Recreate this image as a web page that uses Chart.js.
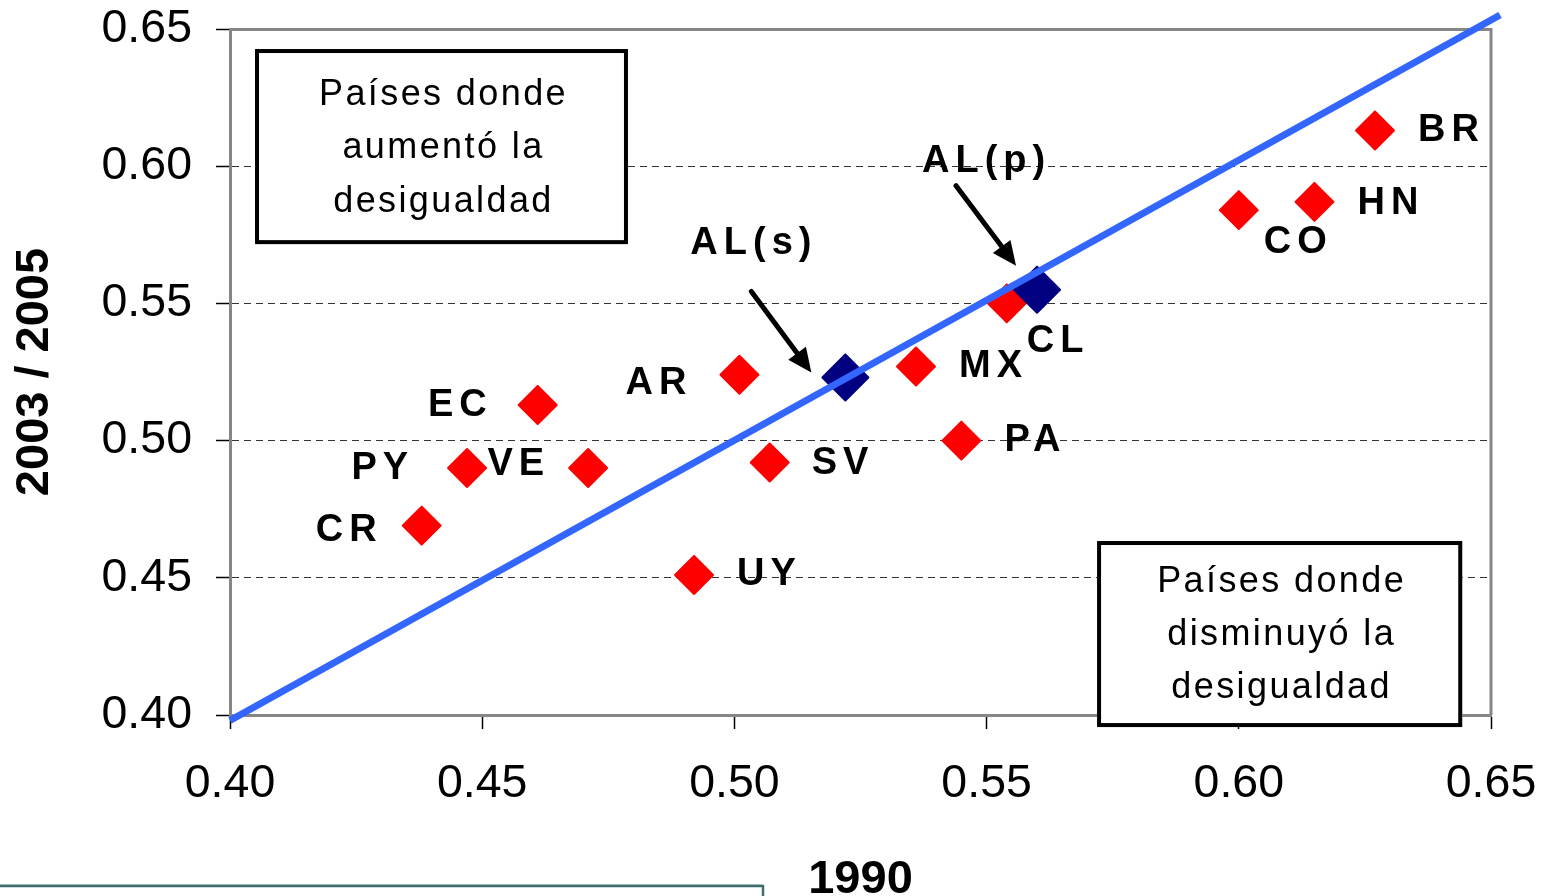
<!DOCTYPE html>
<html>
<head>
<meta charset="utf-8">
<script src="https://cdn.jsdelivr.net/npm/chart.js@4/dist/chart.umd.min.js"></script>
<style>
  html, body { margin: 0; padding: 0; background: #fff; }
  #wrap { width: 1554px; height: 896px; position: relative; }
</style>
</head>
<body>
<div id="wrap"><canvas id="c" width="1554" height="896"></canvas></div>
<script>
// ---- data ----
const countryCodes = ['BR','HN','CO','CL','MX','PA','AR','SV','UY','EC','VE','PY','CR'];
const gini1990     = [0.627,0.615,0.600,0.554,0.536,0.545,0.501,0.507,0.492,0.461,0.471,0.447,0.438];
const gini2005     = [0.613,0.587,0.584,0.550,0.527,0.500,0.524,0.492,0.451,0.513,0.490,0.490,0.469];
const aggCodes     = ['AL(s)','AL(p)'];
const agg1990      = [0.522,0.560];
const agg2005      = [0.523,0.555];
const diagX        = [0.400,0.6518];
const diagY        = [0.398,0.6551];
const xTitle = '1990';
const yTitle = '2003 / 2005';
const boxUpText   = ['Países donde','aumentó la','desigualdad'];
const boxDownText = ['Países donde','disminuyó la','desigualdad'];

// ---- styling / placement (not data) ----
const FONT = "'Liberation Sans', Arial, Helvetica, sans-serif";
const labelPlacement = {
  'BR':{dx:43,dy:-3,side:'r'}, 'HN':{dx:43,dy:-1,side:'r'}, 'CO':{dx:25,dy:29,side:'r'},
  'CL':{dx:20,dy:35,side:'r'}, 'MX':{dx:43,dy:-3,side:'r'}, 'PA':{dx:43,dy:-3,side:'r'},
  'SV':{dx:42,dy:-2,side:'r'}, 'UY':{dx:43,dy:-4,side:'r'},
  'AR':{dx:-53,dy:6,side:'l'}, 'EC':{dx:-51,dy:-3,side:'l'}, 'VE':{dx:-44,dy:-7,side:'l'},
  'PY':{dx:-59,dy:-3,side:'l'}, 'CR':{dx:-45,dy:2,side:'l'},
  'AL(s)':{dx:-155,dy:-137,side:'r'}, 'AL(p)':{dx:-115,dy:-131,side:'r'}
};
const arrowPlacement = {
  'AL(s)':{x1:-94,y1:-86,x2:-34,y2:-5},
  'AL(p)':{x1:-81,y1:-104,x2:-21,y2:-24}
};
const boxes = [
  {x0:0.40496, x1:0.4789, y0:0.6427, y1:0.5716, text:boxUpText, base:[56,109,163]},
  {x0:0.5719, x1:0.6443, y0:0.4634, y1:0.3956, text:boxDownText, base:[51,104,157]}
];

const toPts = (xs, ys) => xs.map((x, i) => ({x, y: ys[i]}));

const overlay = {
  id: 'overlay',
  beforeDatasetsDraw(chart) {
    const {ctx, chartArea: a} = chart;
    ctx.save();
    ctx.strokeStyle = '#868686';
    ctx.lineWidth = 3;
    ctx.beginPath();
    ctx.moveTo(a.left, a.top + 0.5);
    ctx.lineTo(a.right, a.top + 0.5);
    ctx.lineTo(a.right, a.bottom);
    ctx.stroke();
    ctx.restore();
    ctx.save();
    ctx.lineJoin = 'round';
  },
  afterDatasetsDraw(chart) {
    const ctx = chart.ctx;
    ctx.restore();
    const xs = chart.scales.x, ys = chart.scales.y;

    const drawLabel = (code, px, py) => {
      const p = labelPlacement[code];
      if (!p) return;
      ctx.save();
      ctx.font = 'bold 38px ' + FONT;
      ctx.letterSpacing = '6px';
      ctx.fillStyle = '#000';
      ctx.textBaseline = 'alphabetic';
      ctx.textAlign = 'left';
      const w = ctx.measureText(code).width - 6;
      const base = py + p.dy + 13.6;
      const x = p.side === 'r' ? px + p.dx : px + p.dx - w;
      ctx.fillText(code, x, base);
      ctx.restore();
    };
    const redMeta = chart.getDatasetMeta(2);
    redMeta.data.forEach((el, i) => drawLabel(countryCodes[i], el.x, el.y));
    const aggMeta = chart.getDatasetMeta(1);
    aggMeta.data.forEach((el, i) => {
      drawLabel(aggCodes[i], el.x, el.y);
      const a = arrowPlacement[aggCodes[i]];
      if (!a) return;
      const x1 = el.x + a.x1, y1 = el.y + a.y1, x2 = el.x + a.x2, y2 = el.y + a.y2;
      const ang = Math.atan2(y2 - y1, x2 - x1);
      const hl = 24, hw = 11;
      const bx = x2 - hl * Math.cos(ang), by = y2 - hl * Math.sin(ang);
      ctx.save();
      ctx.strokeStyle = '#000';
      ctx.fillStyle = '#000';
      ctx.lineWidth = 5;
      ctx.lineCap = 'round';
      ctx.beginPath();
      ctx.moveTo(x1, y1);
      ctx.lineTo(bx + 2 * Math.cos(ang), by + 2 * Math.sin(ang));
      ctx.stroke();
      ctx.beginPath();
      ctx.moveTo(x2, y2);
      ctx.lineTo(bx + hw * Math.sin(ang), by - hw * Math.cos(ang));
      ctx.lineTo(bx - hw * Math.sin(ang), by + hw * Math.cos(ang));
      ctx.closePath();
      ctx.fill();
      ctx.restore();
    });

    boxes.forEach(b => {
      const L = xs.getPixelForValue(b.x0), R = xs.getPixelForValue(b.x1);
      const T = ys.getPixelForValue(b.y0), B = ys.getPixelForValue(b.y1);
      ctx.save();
      ctx.fillStyle = '#fff';
      ctx.fillRect(L, T, R - L, B - T);
      ctx.strokeStyle = '#000';
      ctx.lineWidth = 4;
      ctx.strokeRect(L + 2, T + 2, R - L - 4, B - T - 4);
      ctx.fillStyle = '#000';
      ctx.font = '36px ' + FONT;
      ctx.letterSpacing = '2.4px';
      ctx.textAlign = 'center';
      ctx.textBaseline = 'alphabetic';
      b.text.forEach((t, i) => ctx.fillText(t, (L + R) / 2 + 2, T + b.base[i]));
      ctx.restore();
    });

    ctx.save();
    ctx.strokeStyle = '#3f6e6e';
    ctx.lineWidth = 2.5;
    ctx.strokeRect(-10, 886, 773, 40);
    ctx.strokeStyle = '#9fbcbc';
    ctx.lineWidth = 1;
    ctx.beginPath(); ctx.moveTo(0, 884.5); ctx.lineTo(762, 884.5); ctx.stroke();
    ctx.restore();
  }
};

const isEdge = v => Math.abs(v - 0.40) < 1e-6 || Math.abs(v - 0.65) < 1e-6;

new Chart(document.getElementById('c'), {
  type: 'scatter',
  data: {
    datasets: [
      {
        label: 'igualdad',
        data: toPts(diagX, diagY),
        showLine: true,
        borderColor: '#3366ff',
        backgroundColor: '#3366ff',
        borderWidth: 7,
        pointRadius: 0,
        borderCapStyle: 'butt',
        clip: false,
        order: 0
      },
      {
        label: 'AL',
        data: toPts(agg1990, agg2005),
        pointStyle: 'rectRot',
        pointRadius: 23,
        backgroundColor: '#000080',
        borderColor: '#000080',
        borderWidth: 2,
        clip: false,
        order: 1
      },
      {
        label: 'países',
        data: toPts(gini1990, gini2005),
        pointStyle: 'rectRot',
        pointRadius: 19,
        backgroundColor: '#ff0000',
        borderColor: '#ff0000',
        borderWidth: 2,
        clip: false,
        order: 2
      }
    ]
  },
  options: {
    responsive: false,
    animation: false,
    events: [],
    layout: { padding: { top: 29, right: 63, left: 0, bottom: 0 } },
    plugins: { legend: { display: false }, tooltip: { enabled: false } },
    scales: {
      x: {
        type: 'linear', min: 0.40, max: 0.65,
        afterFit: s => { s.height = 181; s.paddingLeft = 0; s.paddingRight = 0; },
        ticks: {
          stepSize: 0.05, color: '#000', padding: 27,
          font: { family: FONT, size: 46.5 },
          callback: v => Number(v).toFixed(2)
        },
        grid: { drawOnChartArea: false, tickLength: 14, tickColor: '#000', tickWidth: 1.5 },
        border: { color: '#868686', width: 3 },
        title: {
          display: true, text: xTitle, color: '#000',
          font: { family: FONT, size: 47, weight: 'bold', lineHeight: 1 },
          padding: { top: 0, bottom: -8 }
        }
      },
      y: {
        type: 'linear', min: 0.40, max: 0.65,
        afterFit: s => { s.width = 230; s.paddingTop = 0; s.paddingBottom = 0; },
        ticks: {
          stepSize: 0.05, color: '#000', padding: 24,
          font: { family: FONT, size: 46.5 },
          callback: v => Number(v).toFixed(2)
        },
        grid: {
          color: c => (c.tick && isEdge(c.tick.value)) ? 'rgba(0,0,0,0)' : '#333',
          lineWidth: 1, tickLength: 14, tickColor: '#000', tickWidth: 1.5, tickBorderDash: []
        },
        border: { color: '#868686', width: 3, dash: [7, 5] },
        title: {
          display: true, text: yTitle, color: '#000',
          font: { family: FONT, size: 47, weight: 'bold', lineHeight: 1 },
          padding: { top: 12, bottom: 0 }
        }
      }
    }
  },
  plugins: [overlay]
});
</script>
</body>
</html>
